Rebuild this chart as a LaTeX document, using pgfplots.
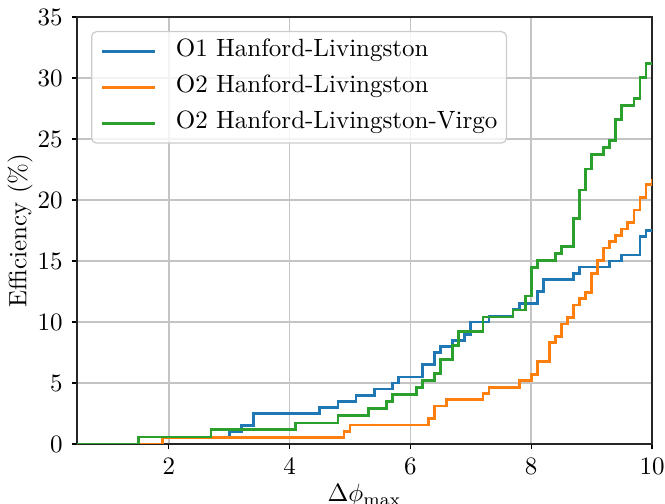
\documentclass[border=0pt]{standalone}
\usepackage{pgfplots}
\pgfplotsset{compat=1.18}

\definecolor{mplblue}{HTML}{1F77B4}
\definecolor{mplorange}{HTML}{FF7F0E}
\definecolor{mplgreen}{HTML}{2CA02C}
\definecolor{gridgray}{HTML}{C4C4C4}

% cumulative efficiency curves (value after each jump)
\pgfplotstableread{
x    y
0.48 0
1.9  0.5
3.0  1.0
3.2  1.5
3.4  2.5
4.5  3.0
4.8  3.5
5.1  4.0
5.4  4.5
5.7  5.0
5.8  5.5
6.2  6.5
6.4  7.5
6.5  8.0
6.7  8.5
6.9  9.0
7.0  10.0
7.3  10.5
7.7  11.0
7.8  11.5
8.1  12.5
8.2  13.5
8.7  14.0
8.8  14.5
9.3  15.0
9.5  15.5
9.8  17.0
9.9  17.5
10.0 17.5
}\oneHL

\pgfplotstableread{
x    y
0.48 0
1.9  0.52
4.9  1.04
5.0  1.55
6.3  2.07
6.4  3.11
6.6  3.63
7.2  4.15
7.3  4.66
7.8  5.18
8.0  5.70
8.1  6.74
8.3  8.29
8.4  8.81
8.5  9.84
8.6  10.36
8.7  11.40
8.8  11.92
8.9  12.44
9.0  13.99
9.1  15.03
9.2  16.06
9.3  16.58
9.4  17.10
9.5  17.62
9.6  18.13
9.7  19.17
9.8  20.21
9.9  21.24
10.0 21.76
}\twoHL

\pgfplotstableread{
x    y
0.48 0
1.5  0.58
2.7  1.16
4.1  1.73
4.8  2.31
5.3  2.89
5.6  3.47
5.7  4.05
6.1  4.62
6.2  5.20
6.4  5.78
6.5  6.94
6.7  8.09
6.8  9.25
7.2  10.40
7.7  10.98
7.9  12.14
8.0  14.45
8.1  15.03
8.4  15.61
8.5  16.18
8.7  18.50
8.8  20.81
8.9  22.54
9.0  23.70
9.2  24.28
9.3  24.86
9.4  26.59
9.5  27.74
9.7  28.32
9.8  30.06
9.9  31.21
10.0 31.21
}\twoHLV

\begin{document}
\begin{tikzpicture}
\begin{axis}[
  scale only axis,
  width=230pt, height=170.8pt,
  xmin=0.48, xmax=10, ymin=0, ymax=35,
  xtick={2,4,6,8,10},
  ytick={0,5,10,15,20,25,30,35},
  tick align=outside,
  major tick length=2.2pt,
  xtick pos=bottom, ytick pos=left,
  tick style={black, line width=0.5pt},
  axis line style={black!85, line width=0.55pt},
  grid=major,
  major grid style={gridgray, line width=0.6pt},
  xlabel={$\Delta\phi_{\max}$},
  ylabel={Efficiency (\%)},
  ylabel style={yshift=-4.8pt},
  xlabel style={yshift=3pt},
  legend cell align=left,
  legend image code/.code={\draw[#1] (0pt,0pt) -- (21.2pt,0pt);},
  legend style={
    at={(axis description cs:0,1)}, anchor=north west,
    xshift=5.6pt, yshift=-5.6pt,
    draw=black!20, line width=0.5pt, rounded corners=2pt,
    fill=white, fill opacity=0.8, text opacity=1,
    inner xsep=3.6pt, inner ysep=3pt,
    row sep=4.6pt, column sep=0pt,
    nodes={inner xsep=0pt, inner ysep=0pt, text height=6.9pt, text depth=2.9pt},
  },
]
\addplot[const plot, mplblue, line width=1.1pt] table[x=x, y=y] {\oneHL};
\addlegendentry{\hspace{7.8pt}O1 Hanford-Livingston}
\addplot[const plot, mplorange, line width=1.1pt] table[x=x, y=y] {\twoHL};
\addlegendentry{\hspace{7.8pt}O2 Hanford-Livingston}
\addplot[const plot, mplgreen, line width=1.1pt] table[x=x, y=y] {\twoHLV};
\addlegendentry{\hspace{7.8pt}O2 Hanford-Livingston-Virgo}
\end{axis}
\pgfresetboundingbox
\useasboundingbox ([xshift=-30.8pt,yshift=-24pt]current axis.south west)
  rectangle ([xshift=5.2pt,yshift=6.8pt]current axis.north east);
\end{tikzpicture}
\end{document}
